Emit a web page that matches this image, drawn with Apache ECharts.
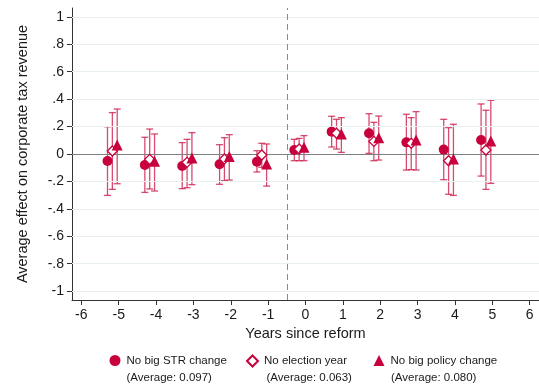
<!DOCTYPE html>
<html>
<head>
<meta charset="utf-8">
<script src="https://cdn.jsdelivr.net/npm/echarts@6/dist/echarts.min.js"></script>
<style>html,body{margin:0;padding:0;background:#fff;}#c{width:539px;height:390px;}</style>
</head>
<body>
<div id="c"></div>
<script>
// Years since reform
const years = [-5, -4, -3, -2, -1, 0, 1, 2, 3, 4, 5];
// Series 1: No big STR change
const strEst = [-0.051, -0.080, -0.088, -0.075, -0.056, 0.029, 0.163, 0.151, 0.085, 0.032, 0.102];
const strLo  = [-0.302, -0.280, -0.253, -0.221, -0.131, -0.049, 0.051, 0.005, -0.117, -0.187, -0.161];
const strHi  = [0.199, 0.122, 0.083, 0.068, 0.024, 0.107, 0.275, 0.294, 0.290, 0.253, 0.365];
// Series 2: No election year
const elecEst = [0.022, -0.039, -0.061, -0.036, -0.007, 0.036, 0.151, 0.092, 0.078, -0.049, 0.029];
const elecLo  = [-0.258, -0.255, -0.246, -0.195, -0.097, -0.049, 0.036, -0.049, -0.114, -0.294, -0.258];
const elecHi  = [0.302, 0.182, 0.107, 0.119, 0.078, 0.114, 0.253, 0.231, 0.265, 0.192, 0.319];
// Series 3: No big policy change
const polEst = [0.066, -0.053, -0.029, -0.019, -0.073, 0.049, 0.146, 0.119, 0.102, -0.036, 0.095];
const polLo  = [-0.217, -0.270, -0.224, -0.190, -0.234, -0.049, 0.012, -0.044, -0.117, -0.302, -0.214];
const polHi  = [0.328, 0.146, 0.156, 0.141, 0.073, 0.134, 0.265, 0.277, 0.309, 0.217, 0.392];

const seriesNames = ['No big STR change', 'No election year', 'No big policy change'];
const averages = ['(Average: 0.097)', '(Average: 0.063)', '(Average: 0.080)'];

const xTicks = [-6, -5, -4, -3, -2, -1, 0, 1, 2, 3, 4, 5, 6];
const yTicks = [-1, -0.8, -0.6, -0.4, -0.2, 0, 0.2, 0.4, 0.6, 0.8, 1];
const reformLine = -0.5;

const RED = '#c8003c';
const CI = 'rgba(205,30,75,0.8)';
const FONT = '"Liberation Sans", Arial, sans-serif';
const offsets = [-0.3, -0.17, -0.04];

function fmtY(v) {
  if (v === 0) return '0';
  const s = String(Math.abs(v)).replace(/^0/, '');
  return (v < 0 ? '-' : '') + s;
}

function errData(lo, hi, k) {
  return years.map((y, i) => [y + offsets[k], lo[i], hi[i]]);
}
function ptData(est, k) {
  return years.map((y, i) => [y + offsets[k], est[i]]);
}

function renderErr(params, api) {
  const x = api.value(0);
  const p1 = api.coord([x, api.value(1)]);
  const p2 = api.coord([x, api.value(2)]);
  const w = 3.5;
  const st = { stroke: CI, lineWidth: 1.3 };
  return {
    type: 'group',
    children: [
      { type: 'line', shape: { x1: p1[0], y1: p1[1], x2: p2[0], y2: p2[1] }, style: st },
      { type: 'line', shape: { x1: p1[0] - w, y1: p1[1], x2: p1[0] + w, y2: p1[1] }, style: st },
      { type: 'line', shape: { x1: p2[0] - w, y1: p2[1], x2: p2[0] + w, y2: p2[1] }, style: st }
    ]
  };
}

const chart = echarts.init(document.getElementById('c'), null, { renderer: 'canvas' });

const gridLines = yTicks.filter(v => v !== 0).map(v => ({ yAxis: v }));

const option = {
  animation: false,
  backgroundColor: '#fff',
  textStyle: { fontFamily: FONT },
  grid: { left: 72, right: 0, top: 8, bottom: 90, containLabel: false },
  xAxis: {
    type: 'value', min: -6.25, max: 6.25,
    name: 'Years since reform', nameLocation: 'middle', nameGap: 19,
    nameTextStyle: { fontSize: 14.5, color: '#1a1a1a', fontFamily: FONT },
    axisLine: { show: true, onZero: false, lineStyle: { color: '#333', width: 1 } },
    axisTick: { show: true, length: 5, customValues: xTicks, lineStyle: { color: '#333' } },
    axisLabel: { customValues: xTicks, fontSize: 14, color: '#1a1a1a', margin: 8, fontFamily: FONT },
    splitLine: { show: false }
  },
  yAxis: {
    type: 'value', min: -1.065, max: 1.065,
    name: 'Average effect on corporate tax revenue', nameLocation: 'middle', nameGap: 42,
    nameTextStyle: { fontSize: 14.5, color: '#1a1a1a', fontFamily: FONT },
    axisLine: { show: true, onZero: false, lineStyle: { color: '#333', width: 1 } },
    axisTick: { show: true, length: 5, customValues: yTicks, lineStyle: { color: '#333' } },
    axisLabel: { customValues: yTicks, fontSize: 14, color: '#1a1a1a', margin: 8, formatter: fmtY, fontFamily: FONT },
    splitLine: { show: false }
  },
  legend: [0, 1, 2].map((k, i) => ({
    data: [seriesNames[k]],
    left: [104.5, 241, 368.5][i], top: 349.5,
    itemWidth: 11, itemHeight: 11, itemGap: 4,
    textStyle: { fontSize: 11.5, color: '#1a1a1a', fontFamily: FONT, padding: [0, 0, 0, 1] },
    selectedMode: false
  })),
  graphic: averages.map((t, i) => ({
    type: 'text', left: [126.5, 266.5, 391][i], top: 372,
    style: { text: t, fontSize: 11.5, fill: '#1a1a1a', fontFamily: FONT }
  })),
  series: [
    {
      type: 'line', data: [], silent: true,
      markLine: {
        silent: true, symbol: 'none', label: { show: false },
        lineStyle: { color: '#e9f0f2', width: 1, type: 'solid' },
        data: gridLines
      }
    },
    {
      type: 'line', data: [], silent: true,
      markLine: {
        silent: true, symbol: 'none', label: { show: false },
        data: [
          { yAxis: 0, lineStyle: { color: '#7f7f7f', width: 1, type: 'solid' } },
          { xAxis: reformLine, lineStyle: { color: '#8a8a8a', width: 1, type: [6, 4] } }
        ]
      }
    },
    { type: 'custom', renderItem: renderErr, data: errData(strLo, strHi, 0), z: 3 },
    { type: 'custom', renderItem: renderErr, data: errData(elecLo, elecHi, 1), z: 3 },
    { type: 'custom', renderItem: renderErr, data: errData(polLo, polHi, 2), z: 3 },
    { name: seriesNames[0], type: 'scatter', symbol: 'circle', symbolSize: 10, data: ptData(strEst, 0), itemStyle: { color: RED, opacity: 1 }, z: 5 },
    { name: seriesNames[1], type: 'scatter', symbol: 'diamond', symbolSize: 10, data: ptData(elecEst, 1), itemStyle: { color: '#fff', borderColor: RED, borderWidth: 1.3, opacity: 1 }, z: 5 },
    { name: seriesNames[2], type: 'scatter', symbol: 'triangle', symbolSize: 11, data: ptData(polEst, 2), itemStyle: { color: RED, opacity: 1 }, z: 5 }
  ]
};
chart.setOption(option);
</script>
</body>
</html>
